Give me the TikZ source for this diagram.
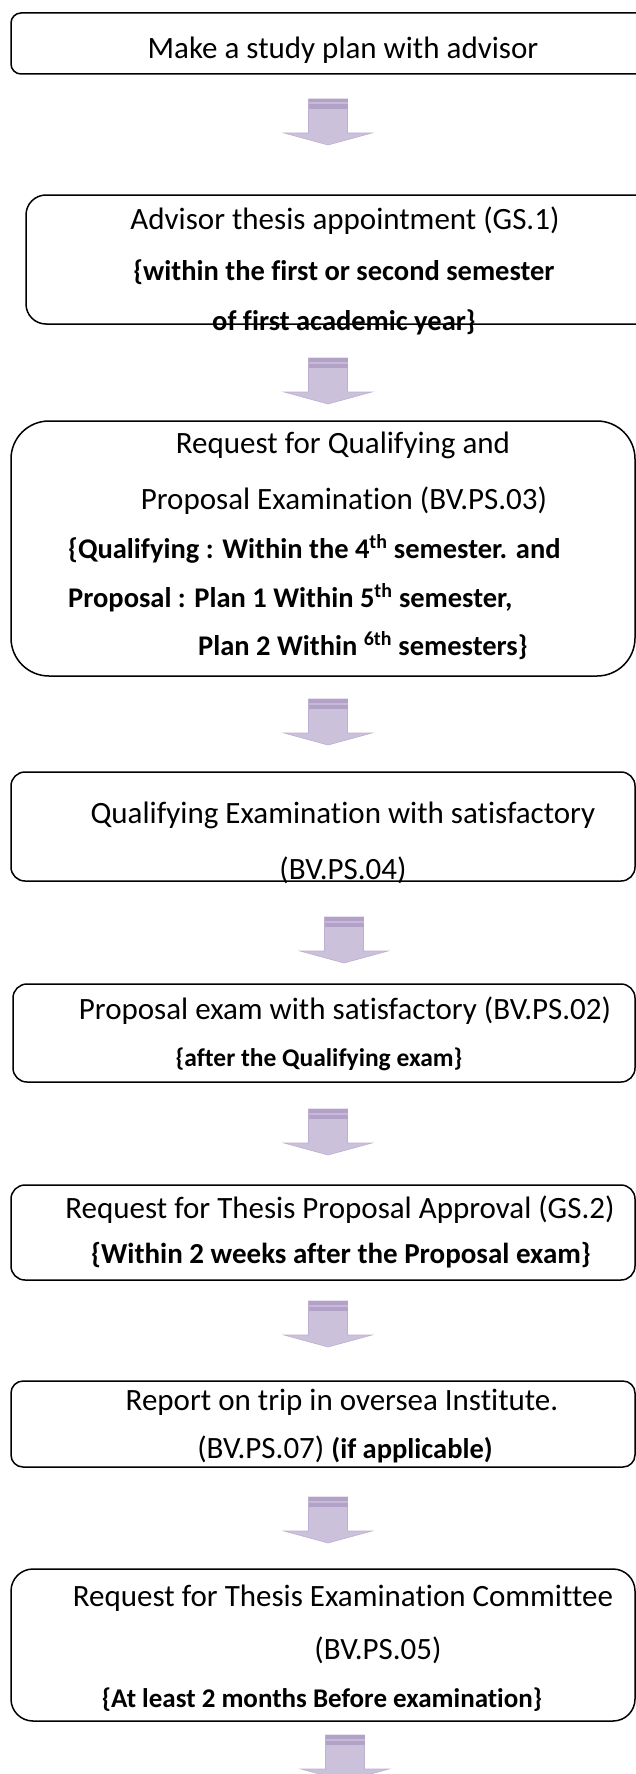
\documentclass[tikz,border=0pt]{standalone}
\usepackage{fontspec}
\setmainfont{Carlito}[RawFeature={-liga;-clig;-dlig;-calt}]
\definecolor{arrowfill}{HTML}{CCC1DA}
\definecolor{arrowband}{HTML}{B3A2C7}
\definecolor{arrowlight}{HTML}{C6BAD6}
\definecolor{arrowedge}{HTML}{BDB0D2}
\newcommand\flowarrow[2]{%
  \begin{scope}[shift={(#1,#2)}]
    \filldraw[fill=arrowfill, draw=arrowedge, line width=0.6pt]
      (-19.5,0) -- (19.5,0) -- (19.5,34) -- (44,34) -- (0,46) -- (-44,34) -- (-19.5,34) -- cycle;
    \fill[arrowband] (-19.5,0) rectangle (19.5,10);
    \fill[arrowlight] (-19.5,3.5) rectangle (19.5,5.5);
  \end{scope}}
\begin{document}
\begin{tikzpicture}[x=1pt,y=-1pt,
  stepbox/.style={draw=black, line width=1.5pt, anchor=north west, inner sep=0pt, outer sep=0pt},
  reg/.style={font=\fontsize{31}{36}\selectfont, inner sep=0pt, anchor=base},
  bld/.style={font=\fontsize{28.5}{34}\selectfont\bfseries, inner sep=0pt, anchor=base},
  bldw/.style={bld, anchor=base west}]
\useasboundingbox (0,0) rectangle (636,1774);
\clip (0,0) rectangle (636,1774);

% boxes
\node[stepbox, rounded corners=10pt, minimum width=660pt, minimum height=61pt] (b1) at (11,13) {};
\node[stepbox, rounded corners=20pt, minimum width=660pt, minimum height=129pt] (b2) at (26,195) {};
\node[stepbox, rounded corners=38pt, minimum width=624pt, minimum height=255pt] (b3) at (11,421) {};
\node[stepbox, rounded corners=14pt, minimum width=624pt, minimum height=109pt] (b4) at (11,772) {};
\node[stepbox, rounded corners=14pt, minimum width=622pt, minimum height=98pt] (b5) at (13,984) {};
\node[stepbox, rounded corners=14pt, minimum width=624pt, minimum height=95pt] (b6) at (11,1185) {};
\node[stepbox, rounded corners=12pt, minimum width=624pt, minimum height=86pt] (b7) at (11,1381) {};
\node[stepbox, rounded corners=22pt, minimum width=624pt, minimum height=152pt] (b8) at (11,1569) {};

% arrows
\flowarrow{328}{99}
\flowarrow{328}{358}
\flowarrow{328}{699}
\flowarrow{344}{917}
\flowarrow{328}{1109}
\flowarrow{328}{1301}
\flowarrow{328}{1497}
\flowarrow{345}{1735}

% texts
\node[reg] (t1) at (343,59) {Make a study plan with advisor};
\node[reg] (t2a) at (345,229) {Advisor thesis appointment (GS.1)};
\node[bld] (t2b) at (344,280) {\{within the first or second semester};
\node[bld] (t2c) at (344,330) {of first academic year\}};
\node[reg] (t3a) at (343,453) {Request for Qualifying and};
\node[reg] (t3b) at (344,509) {Proposal Examination (BV.PS.03)};
\node[bldw] (t3c) at (68,558) {\{Qualifying : Within the 4\textsuperscript{th} semester. and};
\node[bldw] (t3d) at (68,607) {Proposal : Plan 1 Within 5\textsuperscript{th} semester,};
\node[bldw] (t3e) at (198,655) {Plan 2 Within \textsuperscript{6th} semesters\}};
\node[reg] (t4a) at (343,823) {Qualifying Examination with satisfactory};
\node[reg] (t4b) at (343,879) {(BV.PS.04)};
\node[reg] (t5a) at (345,1019) {Proposal exam with satisfactory (BV.PS.02)};
\node[bld, font=\fontsize{25.5}{30}\selectfont\bfseries] (t5b) at (319,1066) {\{after the Qualifying exam\}};
\node[reg] (t6a) at (340,1218) {Request for Thesis Proposal Approval (GS.2)};
\node[bld, font=\fontsize{29}{34}\selectfont\bfseries] (t6b) at (341,1263) {\{Within 2 weeks after the Proposal exam\}};
\node[reg] (t7a) at (342,1410) {Report on trip in oversea Institute.};
\node[reg] (t7b) at (345,1458) {(BV.PS.07) {\fontsize{28.5}{34}\selectfont\bfseries (if applicable)}};
\node[reg] (t8a) at (343,1606) {Request for Thesis Examination Committee};
\node[reg] (t8b) at (378,1659) {(BV.PS.05)};
\node[bld, font=\fontsize{27}{32}\selectfont\bfseries] (t8c) at (322,1707) {\{At least 2 months Before examination\}};
\end{tikzpicture}
\end{document}
